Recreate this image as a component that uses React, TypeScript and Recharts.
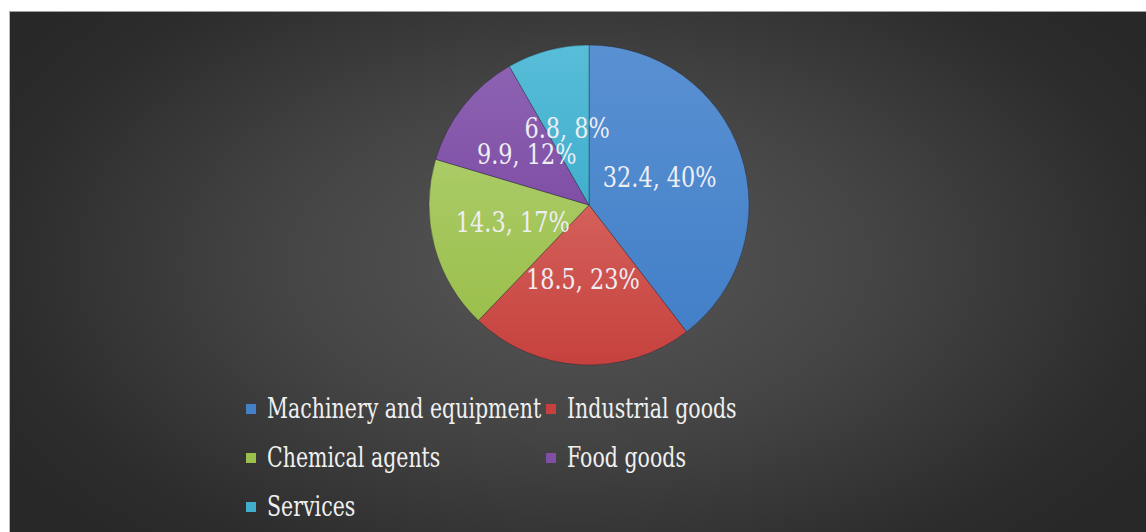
import React from "react";
import { PieChart, Pie, Cell, Legend } from "recharts";

const categories = [
  "Machinery and equipment",
  "Industrial goods",
  "Chemical agents",
  "Food goods",
  "Services",
];
const values = [32.4, 18.5, 14.3, 9.9, 6.8];
const colors = ["#4380c8", "#c6413e", "#9bbf4c", "#7f4fa6", "#40afcd"];
const lightColors = ["#5990d2", "#d4605a", "#aacb66", "#8d62b2", "#58bdd8"];

const data = categories.map((name, i) => ({ name, value: values[i] }));

// only serif face that is really available here; squeezed to look like Times
const FONT = "DejaVu Serif";
const RADIAN = Math.PI / 180;

function renderLabel(props: any) {
  const { cx, cy, midAngle, outerRadius, value, percent } = props;
  const r = outerRadius * 0.48;
  const x = cx + r * Math.cos(-midAngle * RADIAN) - 2;
  const y = cy + r * Math.sin(-midAngle * RADIAN) - 3;
  return (
    <text
      x={0}
      y={0}
      transform={`translate(${x},${y}) scale(0.8,1)`}
      fill="#eeeef4"
      textAnchor="middle"
      dominantBaseline="central"
      style={{ fontFamily: FONT, fontSize: 28 }}
    >
      {`${value}, ${Math.round(percent * 100)}%`}
    </text>
  );
}

// legend keeps the series order (recharts would sort it by name)
function renderLegend() {
  return (
    <div
      style={{
        display: "grid",
        gridTemplateColumns: "300px 300px",
        fontFamily: FONT,
        fontSize: 27,
        color: "#f0f0f0",
      }}
    >
      {categories.map((name, i) => (
        <div key={name} style={{ height: 49, display: "flex", alignItems: "center" }}>
          <span
            style={{
              width: 10,
              height: 10,
              flexShrink: 0,
              background: colors[i],
              marginRight: 11,
              display: "inline-block",
            }}
          />
          <span
            style={{
              whiteSpace: "nowrap",
              display: "inline-block",
              transform: "scaleX(0.76)",
              transformOrigin: "left center",
            }}
          >
            {name}
          </span>
        </div>
      ))}
    </div>
  );
}

export default function App() {
  return (
    <div
      style={{
        position: "absolute",
        left: 0,
        top: 0,
        width: 1146,
        height: 532,
        background: "#ffffff",
        overflow: "hidden",
      }}
    >
      <div
        style={{
          position: "absolute",
          left: 9,
          top: 11,
          width: 1137,
          height: 521,
          borderTop: "1px solid #a0a0a0",
          borderLeft: "1px solid #b8b8b8",
          background:
            "radial-gradient(ellipse 60% 75% at 50% 48%, #575757 0%, #444444 45%, #2c2c2c 85%, #282828 100%)",
        }}
      >
        <PieChart width={1137} height={521}>
          <defs>
            {colors.map((c, i) => (
              <linearGradient key={c} id={`g${i}`} x1="0" y1="0" x2="0" y2="1">
                <stop offset="0%" stopColor={lightColors[i]} />
                <stop offset="100%" stopColor={c} />
              </linearGradient>
            ))}
          </defs>
          <Pie
            data={data}
            dataKey="value"
            nameKey="name"
            cx={574}
            cy={188}
            outerRadius={160}
            startAngle={90}
            endAngle={-270}
            stroke="rgba(30,30,40,0.35)"
            strokeWidth={1}
            label={renderLabel}
            labelLine={false}
            isAnimationActive={false}
          >
            {data.map((d, i) => (
              <Cell key={d.name} fill={`url(#g${i})`} />
            ))}
          </Pie>
          <Legend
            content={renderLegend}
            wrapperStyle={{ position: "absolute", left: 236, top: 372, width: 620 }}
          />
        </PieChart>
      </div>
    </div>
  );
}
